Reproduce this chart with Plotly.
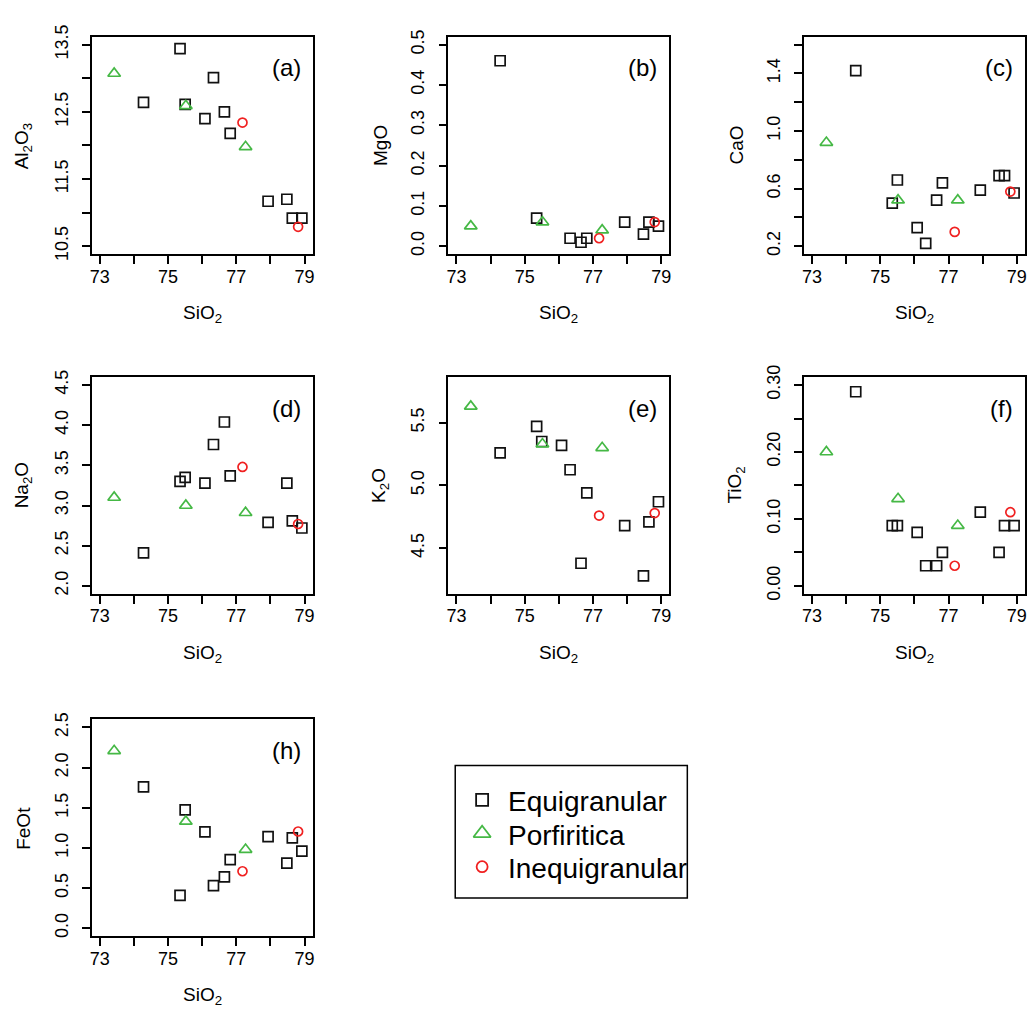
import plotly.graph_objects as go

# Whole-rock SiO2 (wt%) for each textural group
sio2_equi = [74.28, 75.35, 75.50, 76.08, 76.33, 76.65, 76.82, 77.93, 78.48, 78.64, 78.92]
sio2_porf = [73.42, 75.52, 77.27]
sio2_ineq = [77.18, 78.81]

# Major oxides (wt%), same sample order as the SiO2 lists above
al2o3_equi = [12.64, 13.44, 12.61, 12.40, 13.01, 12.50, 12.18, 11.17, 11.20, 10.92, 10.92]
al2o3_porf = [13.07, 12.59, 11.98]
al2o3_ineq = [12.34, 10.79]

mgo_equi = [0.46, 0.07, None, None, 0.02, 0.01, 0.02, 0.06, 0.03, 0.06, 0.05]
mgo_porf = [0.05, 0.06, 0.04]
mgo_ineq = [0.02, 0.06]

cao_equi = [1.42, 0.50, 0.66, 0.33, 0.22, 0.52, 0.64, 0.59, 0.69, 0.69, 0.57]
cao_porf = [0.92, 0.52, 0.52]
cao_ineq = [0.30, 0.58]

na2o_equi = [2.41, 3.30, 3.35, 3.28, 3.76, 4.04, 3.37, 2.79, 3.28, 2.81, 2.72]
na2o_porf = [3.10, 3.00, 2.91]
na2o_ineq = [3.48, 2.77]

k2o_equi = [5.26, 5.47, 5.35, 5.32, 5.125, 4.38, 4.94, 4.68, 4.28, 4.71, 4.87]
k2o_porf = [5.63, 5.33, 5.30]
k2o_ineq = [4.76, 4.78]

tio2_equi = [0.29, 0.09, 0.09, 0.08, 0.03, 0.03, 0.05, 0.11, 0.05, 0.09, 0.09]
tio2_porf = [0.20, 0.13, 0.09]
tio2_ineq = [0.03, 0.11]

feot_equi = [1.76, 0.41, 1.475, 1.20, 0.53, 0.64, 0.855, 1.14, 0.81, 1.125, 0.96]
feot_porf = [2.21, 1.33, 0.98]
feot_ineq = [0.71, 1.205]

group_names = ["Equigranular", "Porfiritica", "Inequigranular"]

# x axis ticks shared by all panels
x_ticks = [73, 74, 75, 76, 77, 78, 79]
x_labels = ["73", "", "75", "", "77", "", "79"]

W, H = 1028, 1012
FONT = "Liberation Sans, Arial, Helvetica, sans-serif"

# panel layout in pixels: (left, right) per column, (top, bottom) per row
COLS = [(90, 312), (448, 670), (805, 1027)]
ROWS = [(25, 247), (372, 593), (721, 942)]

panels = [
    dict(tag="(a)", title="Al<sub>2</sub>O<sub>3</sub>", equi=al2o3_equi, porf=al2o3_porf, ineq=al2o3_ineq,
         lim=(10.5, 13.5), ticks=[10.5, 11.0, 11.5, 12.0, 12.5, 13.0, 13.5],
         labels=["10.5", "", "11.5", "", "12.5", "", "13.5"], cell=(0, 0)),
    dict(tag="(b)", title="MgO", equi=mgo_equi, porf=mgo_porf, ineq=mgo_ineq,
         lim=(0.0, 0.5), ticks=[0.0, 0.1, 0.2, 0.3, 0.4, 0.5],
         labels=["0.0", "0.1", "0.2", "0.3", "0.4", "0.5"], cell=(0, 1)),
    dict(tag="(c)", title="CaO", equi=cao_equi, porf=cao_porf, ineq=cao_ineq,
         lim=(0.2, 1.6), ticks=[0.2, 0.4, 0.6, 0.8, 1.0, 1.2, 1.4, 1.6],
         labels=["0.2", "", "0.6", "", "1.0", "", "1.4", ""], cell=(0, 2)),
    dict(tag="(d)", title="Na<sub>2</sub>O", equi=na2o_equi, porf=na2o_porf, ineq=na2o_ineq,
         lim=(2.0, 4.5), ticks=[2.0, 2.5, 3.0, 3.5, 4.0, 4.5],
         labels=["2.0", "2.5", "3.0", "3.5", "4.0", "4.5"], cell=(1, 0)),
    dict(tag="(e)", title="K<sub>2</sub>O", equi=k2o_equi, porf=k2o_porf, ineq=k2o_ineq,
         lim=(4.2, 5.8), ticks=[4.5, 5.0, 5.5],
         labels=["4.5", "5.0", "5.5"], cell=(1, 1)),
    dict(tag="(f)", title="TiO<sub>2</sub>", equi=tio2_equi, porf=tio2_porf, ineq=tio2_ineq,
         lim=(0.0, 0.3), ticks=[0.0, 0.05, 0.10, 0.15, 0.20, 0.25, 0.30],
         labels=["0.00", "", "0.10", "", "0.20", "", "0.30"], cell=(1, 2)),
    dict(tag="(h)", title="FeOt", equi=feot_equi, porf=feot_porf, ineq=feot_ineq,
         lim=(0.0, 2.5), ticks=[0.0, 0.5, 1.0, 1.5, 2.0, 2.5],
         labels=["0.0", "0.5", "1.0", "1.5", "2.0", "2.5"], cell=(2, 0)),
]

styles = {
    "Equigranular": dict(symbol="square-open", color="#111111", size=10, key_size=12),
    "Porfiritica": dict(symbol="triangle-up-open", color="#45B845", size=11, key_size=15),
    "Inequigranular": dict(symbol="circle-open", color="#F02020", size=9, key_size=11),
}


def pad(lo, hi):
    # R-style 4% range extension
    d = (hi - lo) * 0.04
    return [lo - d, hi + d]


def px_x(v):
    return v / W


def px_y(v):
    return 1 - v / H


fig = go.Figure()
annotations = []

for i, p in enumerate(panels):
    r, c = p["cell"]
    left, right = COLS[c]
    top, bottom = ROWS[r]
    n = i + 1
    xa = "x" if n == 1 else f"x{n}"
    ya = "y" if n == 1 else f"y{n}"
    xkey = "xaxis" if n == 1 else f"xaxis{n}"
    ykey = "yaxis" if n == 1 else f"yaxis{n}"

    series = [("Equigranular", sio2_equi, p["equi"]),
              ("Porfiritica", sio2_porf, p["porf"]),
              ("Inequigranular", sio2_ineq, p["ineq"])]
    for name, xs, ys in series:
        st = styles[name]
        fig.add_trace(go.Scatter(
            x=xs, y=ys, mode="markers", name=name, showlegend=False,
            xaxis=xa, yaxis=ya, cliponaxis=False,
            marker=dict(symbol=st["symbol"], size=st["size"], color=st["color"],
                        line=dict(width=1.7, color=st["color"])),
        ))

    axis_common = dict(showline=True, mirror=True, linecolor="black", linewidth=1.5,
                       ticks="outside", ticklen=8, tickwidth=1.5, tickcolor="black",
                       showgrid=False, zeroline=False,
                       tickfont=dict(family=FONT, size=18, color="black"))
    fig.layout[xkey] = dict(axis_common, domain=[px_x(left), px_x(right)],
                            range=pad(73, 79), tickvals=x_ticks, ticktext=x_labels,
                            anchor=ya, ticklabelstandoff=-3)
    fig.layout[ykey] = dict(axis_common, domain=[px_y(bottom), px_y(top)],
                            range=pad(*p["lim"]), tickvals=p["ticks"], ticktext=p["labels"],
                            anchor=xa, tickangle=-90, ticklabelstandoff=7)

    # panel tag
    annotations.append(dict(text=p["tag"], x=px_x(right - 10), y=px_y(top + 32),
                            xref="paper", yref="paper", xanchor="right", yanchor="middle",
                            showarrow=False, font=dict(family=FONT, size=24, color="black")))
    # y axis title
    annotations.append(dict(text=p["title"], x=px_x(left - 68), y=px_y((top + bottom) / 2),
                            xref="paper", yref="paper", xanchor="center", yanchor="middle",
                            textangle=-90, showarrow=False,
                            font=dict(family=FONT, size=19, color="black")))
    # x axis title
    annotations.append(dict(text="SiO<sub>2</sub>", x=px_x((left + right) / 2), y=px_y(bottom + 61),
                            xref="paper", yref="paper", xanchor="center", yanchor="middle",
                            showarrow=False, font=dict(family=FONT, size=19, color="black")))

# Legend box: keys drawn on a hidden axis, one row per group
LEG_L, LEG_R, LEG_T, LEG_B = 455, 688, 768, 903
ROW0, ROW_STEP = 803, 34
key_x = 27  # key centre, pixels from the box's left edge
fig.layout["xaxis8"] = dict(domain=[px_x(LEG_L), px_x(LEG_R)], range=[0, LEG_R - LEG_L],
                            visible=False, anchor="y8", fixedrange=True)
fig.layout["yaxis8"] = dict(domain=[px_y(LEG_B), px_y(LEG_T)],
                            range=[(LEG_B - ROW0) / ROW_STEP, (LEG_T - ROW0) / ROW_STEP],
                            visible=False, anchor="x8", fixedrange=True)
for k, name in enumerate(group_names):
    st = styles[name]
    fig.add_trace(go.Scatter(
        x=[key_x], y=[k], mode="markers", showlegend=False, xaxis="x8", yaxis="y8",
        cliponaxis=False, hoverinfo="skip",
        marker=dict(symbol=st["symbol"], size=st["key_size"], color=st["color"],
                    line=dict(width=1.8, color=st["color"])),
    ))
    annotations.append(dict(text=name, x=51, y=k + 0.06, xref="x8", yref="y8",
                            xanchor="left", yanchor="middle", showarrow=False,
                            font=dict(family=FONT, size=28, color="black")))

fig.update_layout(
    width=W, height=H, autosize=False,
    margin=dict(l=0, r=0, t=0, b=0, pad=0),
    paper_bgcolor="white", plot_bgcolor="white",
    showlegend=False,
    annotations=annotations,
    shapes=[dict(type="rect", xref="paper", yref="paper",
                 x0=px_x(LEG_L), x1=px_x(LEG_R), y0=px_y(LEG_B), y1=px_y(LEG_T),
                 line=dict(color="black", width=1.5), fillcolor="rgba(0,0,0,0)")],
)

fig.write_html("out.html")
